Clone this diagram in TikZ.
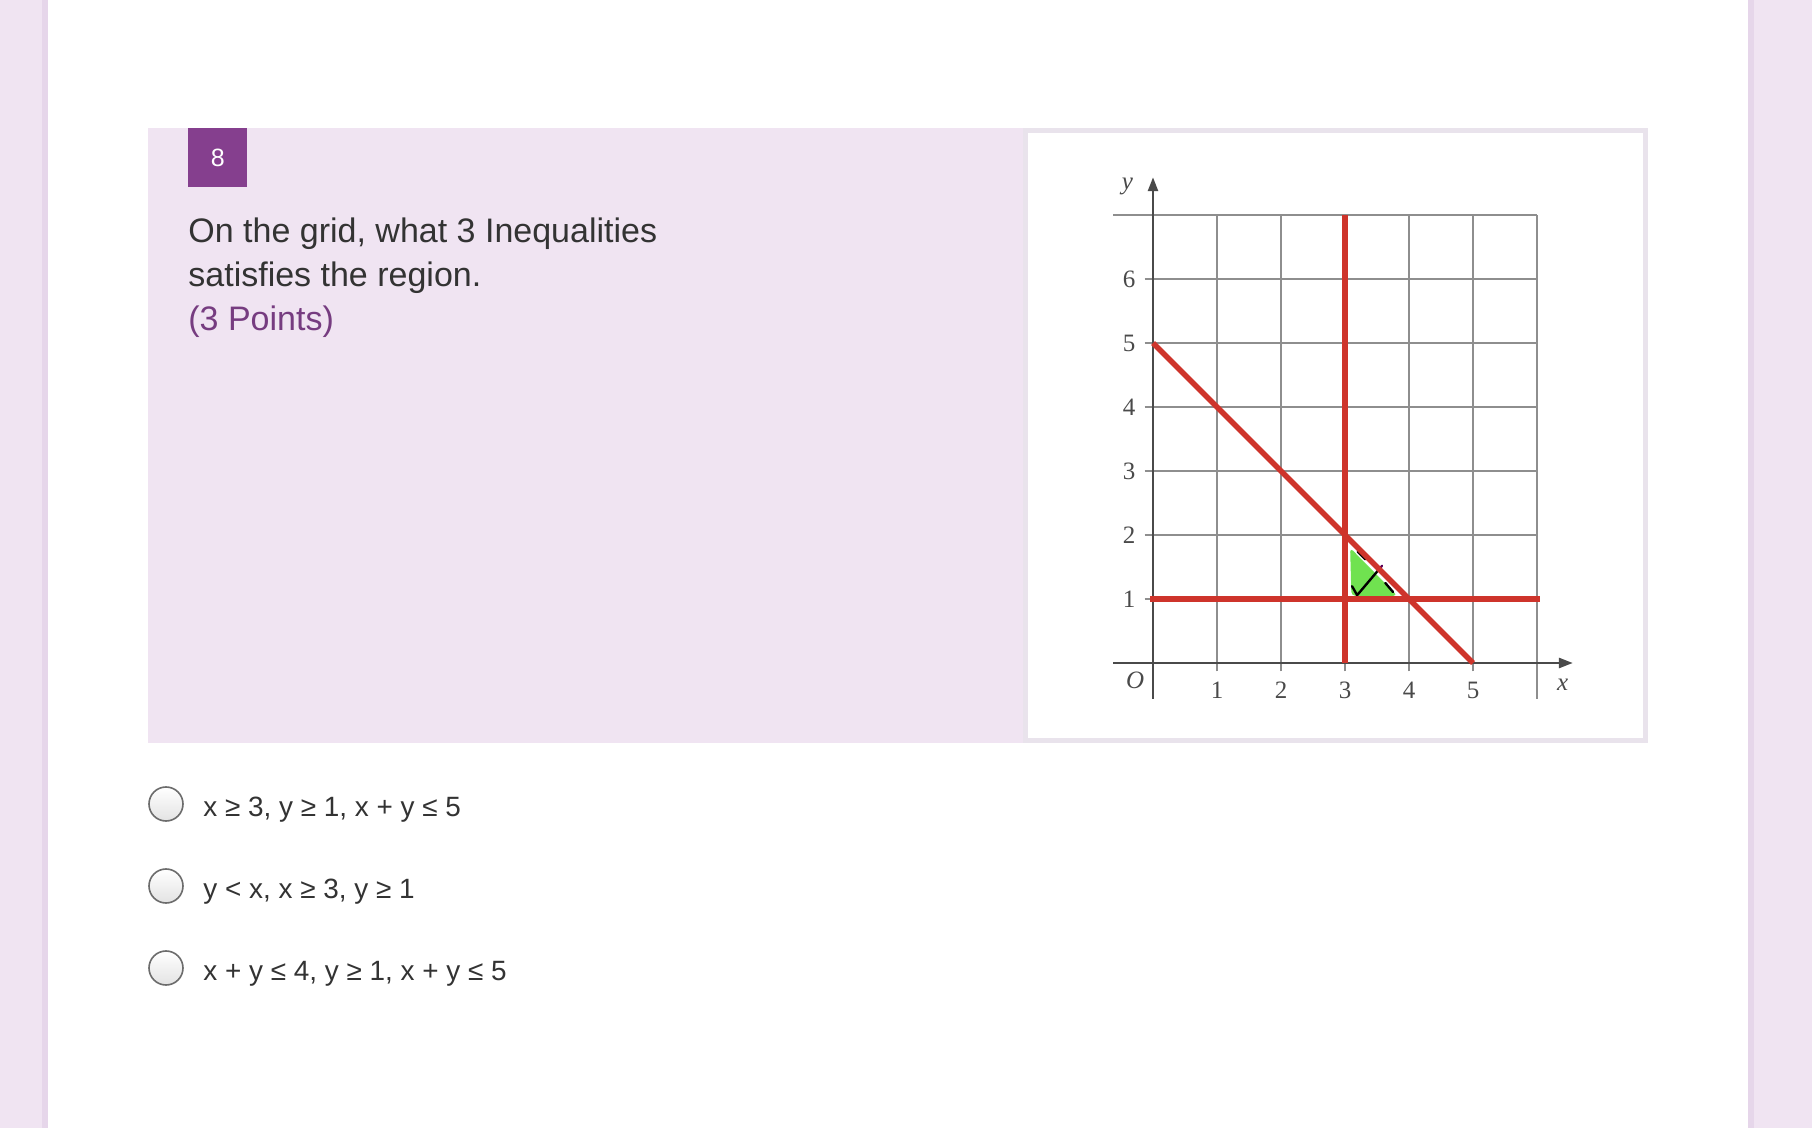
\documentclass[tikz,border=0pt]{standalone}
\usepackage{fontspec}
\setmainfont{Liberation Sans}
\newfontfamily\serifgr{Liberation Serif}
\usetikzlibrary{arrows.meta}
\definecolor{lav}{HTML}{F0E4F2}
\definecolor{lavdark}{HTML}{E6D6EA}
\definecolor{badge}{HTML}{853F8E}
\definecolor{txt}{HTML}{333333}
\definecolor{pts}{HTML}{763C80}
\definecolor{imgborder}{HTML}{E9E3EC}
\definecolor{redl}{RGB}{206,52,43}
\definecolor{greenr}{RGB}{112,226,80}
\definecolor{gridc}{HTML}{8E8E8E}
\definecolor{axisc}{HTML}{4A4A4A}
\tikzset{
  qtext/.style={inner sep=0pt, anchor=base west, text=txt, font=\fontsize{17}{20}\selectfont},
  opttext/.style={inner sep=0pt, anchor=base west, text=txt, font=\fontsize{13.95}{16}\selectfont},
  radio/.style={circle, minimum size=17pt, inner sep=0pt, draw=gray!85!black, line width=0.8pt, top color=white, bottom color=gray!22},
  gridline/.style={draw=gridc, line width=1.2pt},
  axisline/.style={draw=axisc, line width=1.3pt},
  redline/.style={draw=redl, line width=2.7pt},
  numlab/.style={inner sep=0pt, text=axisc, font=\serifgr\fontsize{12.5}{14}\selectfont},
  axlab/.style={inner sep=0pt, text=axisc, font=\serifgr\itshape\fontsize{12.5}{14}\selectfont},
}
\begin{document}
\begin{tikzpicture}[x=0.5pt, y=-0.5pt]
\useasboundingbox (0,0) rectangle (1812,1128);
% backgrounds
\fill[lav] (0,0) rectangle (1812,1128);
\fill[lavdark] (42,0) rectangle (48,1128);
\fill[lavdark] (1748,0) rectangle (1754,1128);
\fill[white] (48,0) rectangle (1748,1128);
\fill[lav] (148,128) rectangle (1648,743);
% badge
\node[fill=badge, minimum width=29.5pt, minimum height=29.5pt, inner sep=0pt, anchor=north west, text=white, font=\fontsize{12.5}{14}\selectfont] (badge) at (188,128) {8};
% question text
\node[qtext] (q1) at (188,243) {On the grid, what 3 Inequalities};
\node[qtext] (q2) at (188,287) {satisfies the region.};
\node[qtext, text=pts] (q3) at (188,331) {(3 Points)};
% image box
\fill[imgborder] (1023,128) rectangle (1648,743);
\fill[white] (1028,133) rectangle (1643,738);
% graph
\begin{scope}[shift={(1153,663)}, x=32pt, y=32pt]
  \foreach \k in {1,...,6} \draw[gridline] (-0.13,\k) -- (6,\k);
  \draw[gridline] (-0.62,7) -- (6,7);
  \foreach \k in {1,...,5} \draw[gridline] (\k,-0.13) -- (\k,7);
  \draw[gridline] (6,-0.56) -- (6,7);
  \coordinate (xs) at (-0.62,0);
  \coordinate (xe) at (6.56,0);
  \coordinate (ys) at (0,-0.56);
  \coordinate (ye) at (0,7.59);
  \draw[axisline, -{Triangle[length=7pt, width=5pt]}] (xs) -- (xe);
  \draw[axisline, -{Triangle[length=7pt, width=5pt]}] (ys) -- (ye);
  \foreach \k in {1,...,6} \node[numlab] (yl\k) at (-0.375,\k) {\k};
  \foreach \k in {1,...,5} \node[numlab] (xl\k) at (\k,-0.43) {\k};
  \node[axlab] (olab) at (-0.28,-0.27) {O};
  \node[axlab] (xlab) at (6.4,-0.34) {x};
  \node[axlab] (ylab) at (-0.4,7.45) {y};
  % shaded region
  \fill[greenr, rounded corners=2pt] (3.08,1.8) -- (3.1,1.05) -- (3.82,1.05) -- cycle;
  \draw[black, line width=1.2pt, line cap=round, line join=round] (3.11,1.2) -- (3.19,1.06) -- (3.52,1.45);
  \draw[violet!70!black, line width=1.1pt, line cap=round] (3.52,1.45) -- (3.58,1.52);
  \draw[black, line width=1.2pt, line cap=round] (3.2,1.74) -- (3.32,1.62);
  \draw[black, line width=1.2pt, line cap=round] (3.63,1.25) -- (3.75,1.11);
  % red lines
  \coordinate (v1) at (3,0);
  \coordinate (v2) at (3,7);
  \coordinate (h1) at (-0.05,1);
  \coordinate (h2) at (6.05,1);
  \coordinate (d1) at (0,5);
  \coordinate (d2) at (5,0);
  \draw[redline] (v1) -- (v2);
  \draw[redline] (h1) -- (h2);
  \draw[redline] (d1) -- (d2);
\end{scope}
% options
\node[radio] (r1) at (166,804) {};
\node[radio] (r2) at (166,886) {};
\node[radio] (r3) at (166,968) {};
\node[opttext] (o1) at (203,816) {x ≥ 3, y ≥ 1, x + y ≤ 5};
\node[opttext] (o2) at (203,898) {y < x, x ≥ 3, y ≥ 1};
\node[opttext] (o3) at (203,980) {x + y ≤ 4, y ≥ 1, x + y ≤ 5};
\end{tikzpicture}
\end{document}
